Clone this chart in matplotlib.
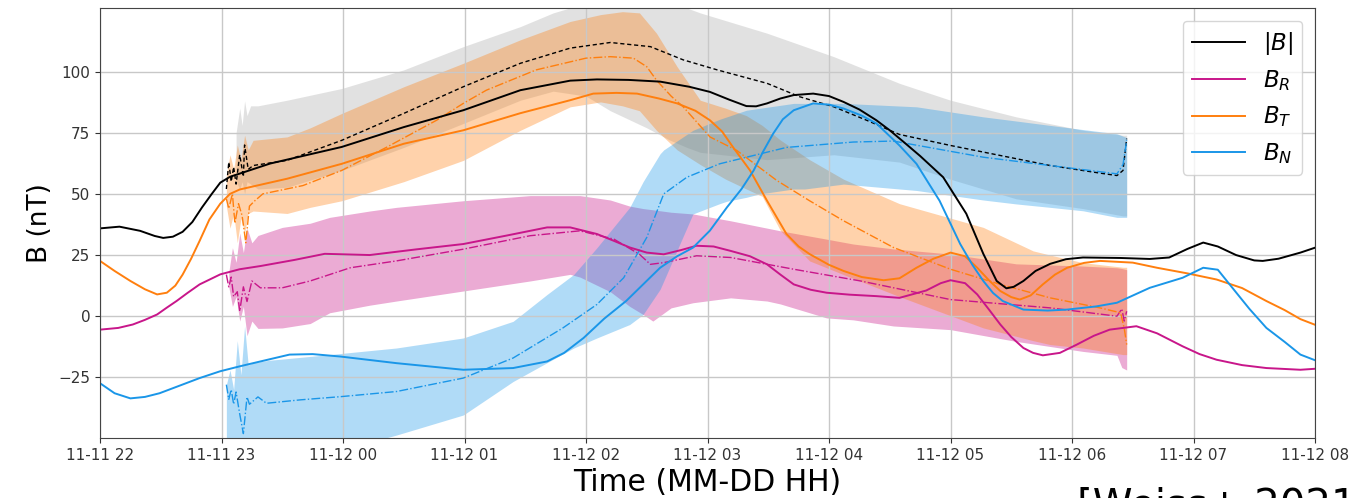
import numpy as np
import pandas as pd
import matplotlib
matplotlib.use("Agg")
import matplotlib.pyplot as plt
import matplotlib.dates as mdates

# ---------------------------------------------------------------------------
# Time axis: hours after 11-11 22:00
START = pd.Timestamp("2020-11-11 22:00")
END_HOURS = 10.0

# In-situ magnetic field components (nT)
babs_t = [0, 0.16, 0.33, 0.45, 0.52, 0.6, 0.68, 0.76, 0.84, 0.92, 0.99, 1.07, 1.15,
          1.4, 1.99, 2.5, 2.99, 3.46, 3.87, 4.09, 4.35, 4.61, 4.85, 5.02, 5.18,
          5.32, 5.4, 5.49, 5.6, 5.71, 5.87, 6.0, 6.12, 6.25, 6.39, 6.5, 6.62, 6.75,
          6.94, 7.13, 7.27, 7.38, 7.46, 7.52, 7.6, 7.7, 7.82, 7.95, 8.09, 8.4,
          8.64, 8.8, 8.95, 9.08, 9.2, 9.35, 9.5, 9.57, 9.7, 9.88, 10]
babs = [35.9, 36.6, 34.9, 32.8, 32.0, 32.5, 34.5, 38.5, 44.5, 50.0, 54.6, 57.0, 58.3,
        62.4, 69.2, 77.3, 84.2, 92.4, 96.3, 96.8, 96.6, 95.9, 93.8, 91.7, 88.5,
        85.9, 85.8, 87.0, 89.0, 90.4, 91.0, 90.0, 87.6, 84.5, 80.1, 76.0, 71.0, 65.5,
        56.8, 41.9, 25.5, 14.4, 11.4, 12.0, 14.4, 18.5, 21.4, 23.3, 24.0, 23.8,
        23.4, 24.0, 27.5, 30.1, 28.5, 25.0, 22.8, 22.6, 23.5, 26.0, 28.0]

bt_t = [0, 0.12, 0.25, 0.37, 0.47, 0.55, 0.62, 0.68, 0.75, 0.82, 0.9, 0.99, 1.07,
        1.15, 1.3, 1.54, 1.99, 2.5, 2.99, 3.46, 3.87, 4.06, 4.25, 4.42, 4.6, 4.75,
        4.9, 5.02, 5.12, 5.21, 5.35, 5.49, 5.65, 5.75, 5.84, 6.0, 6.12, 6.27,
        6.45, 6.58, 6.72, 6.86, 7.0, 7.12, 7.22, 7.32, 7.41, 7.5, 7.57, 7.66,
        7.76, 7.86, 7.96, 8.1, 8.23, 8.5, 8.7, 8.95, 9.19, 9.4, 9.6, 9.75, 9.88, 10]
bt = [22.6, 18.5, 14.4, 11.0, 8.9, 9.6, 12.5, 17.0, 23.5, 30.8, 39.5, 46.0, 50.0,
      51.8, 53.5, 56.2, 62.3, 70.5, 76.0, 83.0, 88.3, 91.0, 91.3, 91.0, 89.0, 87.0,
      84.0, 80.1, 75.5, 69.1, 59.6, 47.2, 33.6, 28.5, 25.4, 21.0, 18.5, 16.0,
      14.7, 15.5, 19.8, 23.5, 26.0, 24.5, 19.8, 14.5, 10.3, 7.8, 6.8, 8.5,
      13.0, 17.0, 19.8, 21.8, 22.6, 21.9, 19.8, 17.5, 15.0, 11.5, 6.2, 2.5, -1.2, -3.5]

br_t = [0, 0.15, 0.27, 0.37, 0.47, 0.55, 0.63, 0.72, 0.82, 0.99, 1.15, 1.32, 1.6,
        1.85, 2.22, 2.6, 2.99, 3.35, 3.68, 3.87, 4.09, 4.22, 4.36, 4.5, 4.64, 4.78,
        4.91, 5.05, 5.19, 5.35, 5.49, 5.6, 5.71, 5.85, 5.98, 6.17, 6.39, 6.58,
        6.8, 6.92, 7.0, 7.12, 7.22, 7.32, 7.41, 7.5, 7.6, 7.68, 7.76, 7.9, 8.04,
        8.18, 8.31, 8.53, 8.7, 8.91, 9.05, 9.19, 9.4, 9.6, 9.88, 10]
br = [-5.5, -4.8, -3.4, -1.5, 0.7, 3.5, 6.2, 9.5, 13.0, 17.1, 19.2, 20.5, 23.0,
      25.5, 25.0, 27.3, 29.5, 33.0, 36.3, 36.3, 33.6, 31.0, 28.1, 26.0, 25.3, 27.0,
      28.8, 28.5, 26.7, 24.5, 21.2, 17.0, 13.0, 10.8, 9.6, 8.8, 8.2, 7.5,
      10.5, 13.5, 14.7, 13.5, 8.9, 2.5, -3.4, -8.5, -13.0, -15.0, -16.0, -15.0, -11.6,
      -8.0, -5.5, -4.1, -7.0, -12.3, -15.5, -17.8, -20.0, -21.2, -21.9, -21.5]

bn_t = [0, 0.12, 0.25, 0.37, 0.49, 0.65, 0.82, 0.99, 1.15, 1.32, 1.56, 1.75, 1.98,
        2.44, 2.99, 3.4, 3.68, 3.82, 3.98, 4.15, 4.33, 4.47, 4.61, 4.75, 4.88, 5.02,
        5.16, 5.28, 5.38, 5.46, 5.54, 5.62, 5.71, 5.87, 6.0, 6.12, 6.27, 6.39, 6.58,
        6.72, 6.91, 7.08, 7.18, 7.27, 7.35, 7.43, 7.6, 7.8, 7.96, 8.2, 8.37, 8.64,
        8.91, 9.08, 9.2, 9.32, 9.46, 9.6, 9.75, 9.88, 10]
bn = [-27.4, -31.5, -33.6, -33.0, -31.5, -28.5, -25.3, -22.5, -20.5, -18.5, -15.7, -15.5, -16.5,
      -19.2, -21.9, -21.2, -18.5, -15.0, -8.9, -1.0, 6.2, 13.0, 19.8, 24.5, 28.0, 35.0,
      44.5, 52.0, 59.6, 67.5, 74.6, 80.5, 84.2, 87.0, 86.5, 84.9, 82.0, 78.8, 69.8,
      62.3, 47.2, 29.5, 21.0, 14.4, 9.5, 6.2, 2.7, 2.3, 2.7, 4.0, 5.5, 11.6,
      15.7, 19.8, 19.0, 11.6, 3.0, -4.8, -10.5, -15.7, -18.0]

# Model ensemble means
mod_babs_t = [1.04, 1.06, 1.08, 1.1, 1.12, 1.15, 1.18, 1.19, 1.22, 1.26, 1.54, 1.99,
              2.5, 2.99, 3.46, 3.87, 4.2, 4.53, 4.8, 5.08, 5.49, 5.76, 6.04, 6.31,
              6.58, 7.0, 7.41, 7.82, 8.23, 8.37, 8.42, 8.45]
mod_babs = [52, 63, 55, 61, 54, 66, 57, 70, 60, 61.6, 63.7, 71.9,
            82.9, 93.8, 103.4, 109.6, 111.9, 110.2, 104.8, 100.7, 95.2, 89.7, 85.6, 80.1,
            74.3, 69.8, 65.7, 61.6, 58.5, 57.5, 59.6, 72.6]

mod_bt_t = [1.04, 1.06, 1.09, 1.11, 1.14, 1.17, 1.2, 1.23, 1.27, 1.34, 1.67, 1.99,
            2.36, 2.77, 2.99, 3.18, 3.59, 4.0, 4.2, 4.39, 4.5, 4.58, 4.7, 4.8, 5.02,
            5.24, 5.57, 5.84, 6.12, 6.53, 7.0, 7.41, 7.82, 8.23, 8.4, 8.43, 8.45]
mod_bt = [48, 44, 50, 38, 46, 41, 30, 45, 47, 50, 53.4, 59.6,
          69.1, 80.1, 87.0, 92.4, 100.7, 105.5, 106.1, 105.5, 102.0, 96.5, 90.0, 85.6, 73.3,
          67.8, 55.5, 47.2, 39.0, 28.1, 19.2, 13.0, 7.5, 3.4, 1.4, -5.0, -11.6]

mod_br_t = [1.04, 1.06, 1.08, 1.1, 1.13, 1.15, 1.18, 1.21, 1.25, 1.32, 1.5, 1.73, 2.06,
            2.44, 2.99, 3.54, 3.95, 4.23, 4.44, 4.53, 4.64, 4.91, 5.19, 5.71, 6.26,
            7.0, 7.82, 8.37, 8.41, 8.43, 8.45]
mod_br = [17, 12, 16, 8, 10, 2, 12, 6, 14.4, 11.6, 11.6, 14.4, 19.8,
          22.6, 27.4, 32.9, 34.9, 31.5, 25.3, 21.2, 21.9, 24.7, 24.0, 19.2, 14.4,
          6.8, 3.4, 0.0, 3.0, -2.0, 2.0]

mod_bn_t = [1.04, 1.06, 1.08, 1.1, 1.12, 1.15, 1.18, 1.21, 1.23, 1.3, 1.37, 1.65, 1.98,
            2.44, 2.99, 3.4, 3.81, 4.09, 4.31, 4.5, 4.64, 4.83, 5.1, 5.65, 6.2, 6.53,
            7.27, 7.82, 8.37, 8.42, 8.45]
mod_bn = [-28, -34, -30, -36, -31, -40, -48, -33, -36, -33, -35.6, -34.2, -32.9,
          -30.8, -25.3, -17.1, -4.8, 4.8, 15.7, 32.2, 50.0, 56.8, 62.3, 69.0, 71.2, 71.6,
          65.0, 61.6, 58.2, 62.0, 71.9]

# Model ensemble spread (lower / upper envelope)
env_babs_t = [1.12, 1.15, 1.17, 1.19, 1.21, 1.24, 1.3, 1.54, 1.99, 2.5, 2.99, 3.46,
              3.73, 4.0, 4.2, 4.5, 4.69, 4.83, 4.94, 5.49, 6.04, 6.58, 7.0, 7.54,
              8.09, 8.42, 8.45]
env_babs_hi = [75, 85, 78, 88, 82, 86, 86, 88.3, 93.1, 100.7, 110.2, 118.4,
               124, 128, 129, 130, 128, 126, 124, 115.7, 106.1, 95.2, 88.3, 81.5,
               76, 74, 74]
env_babs_lo = [55, 52, 55, 50, 55, 54, 52, 52.7, 59.6, 69, 78.8, 88.3,
               92, 90, 84, 77, 72, 69, 67, 64, 66, 63, 56, 48,
               44, 41, 41]

env_bt_t = [1.04, 1.07, 1.1, 1.13, 1.16, 1.19, 1.22, 1.26, 1.54, 1.73, 1.99, 2.5,
            2.99, 3.46, 3.87, 4.12, 4.3, 4.44, 4.58, 4.75, 4.94, 5.15, 5.32, 5.45,
            5.6, 5.84, 6.12, 6.58, 7.27, 7.68, 7.82, 8.09, 8.42, 8.45]
env_bt_hi = [58, 66, 60, 70, 64, 74, 68, 71.9, 73.3, 77, 82.9, 93.8,
             103.4, 113, 120.5, 123.3, 124.5, 124, 115.7, 102, 88.3, 85, 82, 78,
             72, 64, 56, 46, 36.3, 26.7, 25, 21.9, 20, 20]
env_bt_lo = [45, 36, 42, 30, 40, 34, 42, 43, 42, 44.5, 47.2, 55,
             63.7, 76, 85.6, 87.6, 86, 84, 76, 68, 62, 56, 52, 49,
             35, 22.6, 17, 8, -4.8, -10, -11.6, -13, -15.7, -15.7]

env_br_t = [1.06, 1.09, 1.12, 1.15, 1.18, 1.21, 1.25, 1.3, 1.5, 1.73, 1.89, 2.22,
            2.44, 2.99, 3.54, 3.87, 3.95, 4.2, 4.36, 4.47, 4.55, 4.7, 4.88, 5.19,
            5.49, 5.6, 5.98, 6.2, 6.53, 7.0, 7.54, 8.09, 8.37, 8.41, 8.45]
env_br_hi = [18, 28, 22, 34, 26, 36, 30, 33, 36.3, 38, 40.4, 43,
             44.5, 47.2, 49.3, 49.3, 49.3, 47.5, 45, 44, 43.5, 42.5, 41.8, 39,
             36, 34.9, 31.5, 29.5, 27.5, 25.4, 21.4, 20.5, 19.8, 19.5, 19]
env_br_lo = [12, 4, 8, -2, 4, -8, -2, -5, -4.8, -3, 1.4, 4.5,
             6.2, 10.3, 14.4, 17.1, 16, 10, 4, 0.7, -2, 3.4, 5.5, 7.5,
             6.2, 5, -0.7, -1.5, -4, -5.5, -10.3, -14.4, -16, -21, -22]

env_bn_t = [1.04, 1.07, 1.1, 1.13, 1.16, 1.19, 1.22, 1.26, 1.4, 1.89, 2.44, 2.99,
            3.4, 3.68, 3.9, 4.09, 4.36, 4.47, 4.61, 4.64, 4.88, 5.1, 5.16, 5.32,
            5.43, 5.71, 5.8, 6.12, 6.72, 7.27, 7.54, 7.82, 8.09, 8.37, 8.45]
env_bn_hi = [-28, -22, -30, -10, -24, -4, -20, -19, -18, -15.7, -13, -8.9,
             -2.1, 8.9, 17.1, 28, 44.5, 55, 66.4, 68, 76, 80.5, 81.5, 84.2,
             85, 87, 87, 87, 85.6, 81.5, 79.8, 78, 76.3, 74.6, 73]
env_bn_lo = [-60, -60, -60, -60, -60, -60, -60, -60, -60, -56, -48.6, -40.4,
             -26.7, -19, -13, -8.9, -3.4, 0.7, 11, 14.4, 41.8, 46, 47, 48.6,
             50, 52, 52, 54, 51.4, 47.5, 45.9, 44.5, 43.1, 40.4, 40.4]

labels = [r"$|B|$", r"$B_R$", r"$B_T$", r"$B_N$"]
y_ticks = [-25, 0, 25, 50, 75, 100]
source_note = "[Weiss+ 2021]"


def to_time(hours):
    return (START + pd.to_timedelta(np.asarray(hours, dtype=float), unit="h")).to_pydatetime()


C_ABS = "black"
C_R = "#c8168a"
C_T = "#ff7f0e"
C_N = "#1a96e8"

fig = plt.figure(figsize=(13.6, 4.98), dpi=100)
ax = fig.add_axes([100 / 1360, 60 / 498, 1215 / 1360, 430 / 498])

# Ensemble envelopes
ax.fill_between(to_time(env_babs_t), env_babs_lo, env_babs_hi, color="#c4c4c4",
                alpha=0.5, linewidth=0)
ax.fill_between(to_time(env_br_t), env_br_lo, env_br_hi, color=C_R, alpha=0.36,
                linewidth=0)
ax.fill_between(to_time(env_bt_t), env_bt_lo, env_bt_hi, color=C_T, alpha=0.35,
                linewidth=0)
ax.fill_between(to_time(env_bn_t), env_bn_lo, env_bn_hi, color=C_N, alpha=0.34,
                linewidth=0)

# Ensemble means
ax.plot(to_time(mod_babs_t), mod_babs, color=C_ABS, ls=(0, (3, 2)), lw=1.0)
ax.plot(to_time(mod_br_t), mod_br, color=C_R, ls="-.", lw=1.0)
ax.plot(to_time(mod_bt_t), mod_bt, color=C_T, ls="-.", lw=1.0)
ax.plot(to_time(mod_bn_t), mod_bn, color=C_N, ls="-.", lw=1.0)

# Measured field
h_abs, = ax.plot(to_time(babs_t), babs, color=C_ABS, lw=1.4, label=labels[0])
h_r, = ax.plot(to_time(br_t), br, color=C_R, lw=1.4, label=labels[1])
h_t, = ax.plot(to_time(bt_t), bt, color=C_T, lw=1.4, label=labels[2])
h_n, = ax.plot(to_time(bn_t), bn, color=C_N, lw=1.4, label=labels[3])

ax.set_xlim(to_time([0.0])[0], to_time([END_HOURS])[0])
ax.set_ylim(-49.8, 126.0)
ax.set_yticks(y_ticks)
ax.xaxis.set_major_locator(mdates.HourLocator(interval=1))
ax.xaxis.set_major_formatter(mdates.DateFormatter("%m-%d %H"))
ax.tick_params(labelsize=11, colors="#333333")
ax.grid(True, color="#c8c8c8", lw=1.0)
for sp in ax.spines.values():
    sp.set_color("#444444")

ax.set_xlabel("Time (MM-DD HH)", fontsize=21.5)
ax.set_ylabel("B (nT)", fontsize=19)

ax.legend(handles=[h_abs, h_r, h_t, h_n], loc="upper right", fontsize=16.5,
          handlelength=2.3, labelspacing=0.5, borderaxespad=0.55)

fig.text(1077 / 1360, -0.041, source_note, fontsize=29, va="baseline", ha="left")

fig.savefig("out.png", dpi=100)
